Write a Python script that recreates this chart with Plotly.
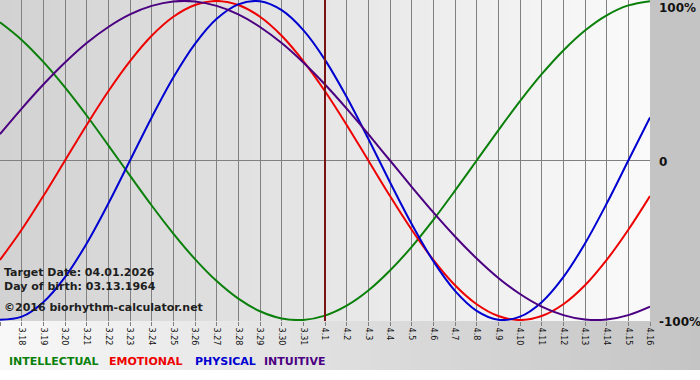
import plotly.graph_objects as go

# ---- data ----
dates = ["3.17", "3.18", "3.19", "3.20", "3.21", "3.22", "3.23", "3.24", "3.25", "3.26",
         "3.27", "3.28", "3.29", "3.30", "3.31", "4.1", "4.2", "4.3", "4.4", "4.5",
         "4.6", "4.7", "4.8", "4.9", "4.10", "4.11", "4.12", "4.13", "4.14", "4.15", "4.16"]

intellectual = [86.6, 75.6, 61.8, 45.8, 28.2, 9.5, -9.5, -28.2, -45.8, -61.8,
                -75.6, -86.6, -94.5, -99.0, -99.9, -97.2, -91.0, -81.5, -69.0, -54.1,
                -37.2, -18.9, 0.0, 18.9, 37.2, 54.1, 69.0, 81.5, 91.0, 97.2, 99.9]
emotional = [-62.3, -43.4, -22.3, 0.0, 22.3, 43.4, 62.3, 78.2, 90.1, 97.5,
             100.0, 97.5, 90.1, 78.2, 62.3, 43.4, 22.3, 0.0, -22.3, -43.4,
             -62.3, -78.2, -90.1, -97.5, -100.0, -97.5, -90.1, -78.2, -62.3, -43.4, -22.3]
physical = [-99.8, -97.9, -88.8, -73.1, -52.0, -27.0, 0.0, 27.0, 52.0, 73.1,
            88.8, 97.9, 99.8, 94.2, 81.7, 63.1, 39.8, 13.6, -13.6, -39.8,
            -63.1, -81.7, -94.2, -99.8, -97.9, -88.8, -73.1, -52.0, -27.0, 0.0, 27.0]
intuitive = [16.5, 32.5, 47.6, 61.4, 73.6, 83.7, 91.6, 96.9, 99.7, 99.7,
             96.9, 91.6, 83.7, 73.6, 61.4, 47.6, 32.5, 16.5, 0.0, -16.5,
             -32.5, -47.6, -61.4, -73.6, -83.7, -91.6, -96.9, -99.7, -99.7, -96.9, -91.6]

series_names = ["INTELLECTUAL", "EMOTIONAL", "PHYSICAL", "INTUITIVE"]
series_colors = ["#0a800a", "#ee0000", "#0000d0", "#4b0082"]
series_values = [intellectual, emotional, physical, intuitive]

target_date = "4.1"
info_lines = ["Target Date: 04.01.2026", "Day of birth: 03.13.1964", "\u00a92016 biorhythm-calculator.net"]
y_labels = ["100%", "0", "-100%"]

# ---- layout helpers (pixel -> paper) ----
W, H = 700, 380
ML, MR, MT, MB = 0, 50, 0, 59
PW, PH = W - ML - MR, H - MT - MB


def px(x):
    return (x - ML) / PW


def py(y):
    return (H - MB - y) / PH


def gray(v):
    v = int(round(v))
    return f"rgb({v},{v},{v})"


shapes = []
# plot-area gradient
n = 65
for i in range(n):
    x0 = i * PW / n
    x1 = (i + 1) * PW / n + 0.5
    c = 210 + (250 - 210) * i / (n - 1)
    shapes.append(dict(type="rect", xref="paper", yref="paper", x0=px(x0), x1=px(x1),
                       y0=py(321), y1=py(0), fillcolor=gray(c), line_width=0, layer="below"))
# right panel
shapes.append(dict(type="rect", xref="paper", yref="paper", x0=px(650), x1=px(700),
                   y0=py(321), y1=py(0), fillcolor=gray(196), line_width=0, layer="below"))
# bottom band gradient
n = 70
for i in range(n):
    x0 = i * W / n
    x1 = (i + 1) * W / n + 0.5
    c = 248 - (248 - 196) * i / (n - 1)
    shapes.append(dict(type="rect", xref="paper", yref="paper", x0=px(x0), x1=px(x1),
                       y0=py(370), y1=py(321), fillcolor=gray(c), line_width=0, layer="below"))

fig = go.Figure()
xs = list(range(len(dates)))
for name, col, vals in zip(series_names, series_colors, series_values):
    fig.add_trace(go.Scatter(x=xs, y=vals, mode="lines", name=name,
                             line=dict(color=col, width=2, shape="spline", smoothing=1.0),
                             hoverinfo="skip"))

# target date line
ti = dates.index(target_date)
shapes.append(dict(type="line", xref="x", yref="paper", x0=ti, x1=ti, y0=0, y1=1,
                   line=dict(color="#7a1414", width=2), layer="above"))

annotations = []
# info text
for txt, yy in zip(info_lines, [272, 286, 307]):
    annotations.append(dict(text=f"<b>{txt}</b>", xref="paper", yref="paper", x=px(2), y=py(yy),
                            xanchor="left", yanchor="middle", showarrow=False,
                            font=dict(family="DejaVu Sans", size=11, color="#1e1e1e")))
# right labels
for txt, yy in zip(y_labels, [8, 162, 322]):
    annotations.append(dict(text=f"<b>{txt}</b>", xref="paper", yref="paper", x=px(657), y=py(yy),
                            xanchor="left", yanchor="middle", showarrow=False,
                            font=dict(family="DejaVu Sans", size=12, color="#111111")))
# legend texts
for txt, col, xx in zip(series_names, series_colors, [7, 107, 193, 262]):
    annotations.append(dict(text=f"<b>{txt}</b>", xref="paper", yref="paper", x=px(xx), y=py(362),
                            xanchor="left", yanchor="middle", showarrow=False,
                            font=dict(family="DejaVu Sans", size=11, color=col)))

fig.update_layout(
    width=W, height=H,
    margin=dict(l=ML, r=MR, t=MT, b=MB, pad=0),
    paper_bgcolor="white",
    plot_bgcolor="rgba(0,0,0,0)",
    showlegend=False,
    hovermode=False,
    shapes=shapes,
    annotations=annotations,
    xaxis=dict(range=[0, len(dates) - 1], tickvals=xs, ticktext=dates, tickangle=90,
               showgrid=True, gridcolor="#808080", gridwidth=1, zeroline=False,
               ticks="outside", ticklen=4, tickcolor="#808080", showline=False,
               tickfont=dict(family="DejaVu Sans", size=8, color="#111111")),
    yaxis=dict(range=[-100.6, 100.6], tickvals=[0], showticklabels=False, showgrid=True,
               gridcolor="#808080", gridwidth=1, zeroline=False, showline=False),
)

fig.write_html("out.html",
               config={"displayModeBar": False, "staticPlot": True},
               post_script="document.body.style.margin='0';document.body.style.padding='0';"
                           "document.body.style.overflow='hidden';")
